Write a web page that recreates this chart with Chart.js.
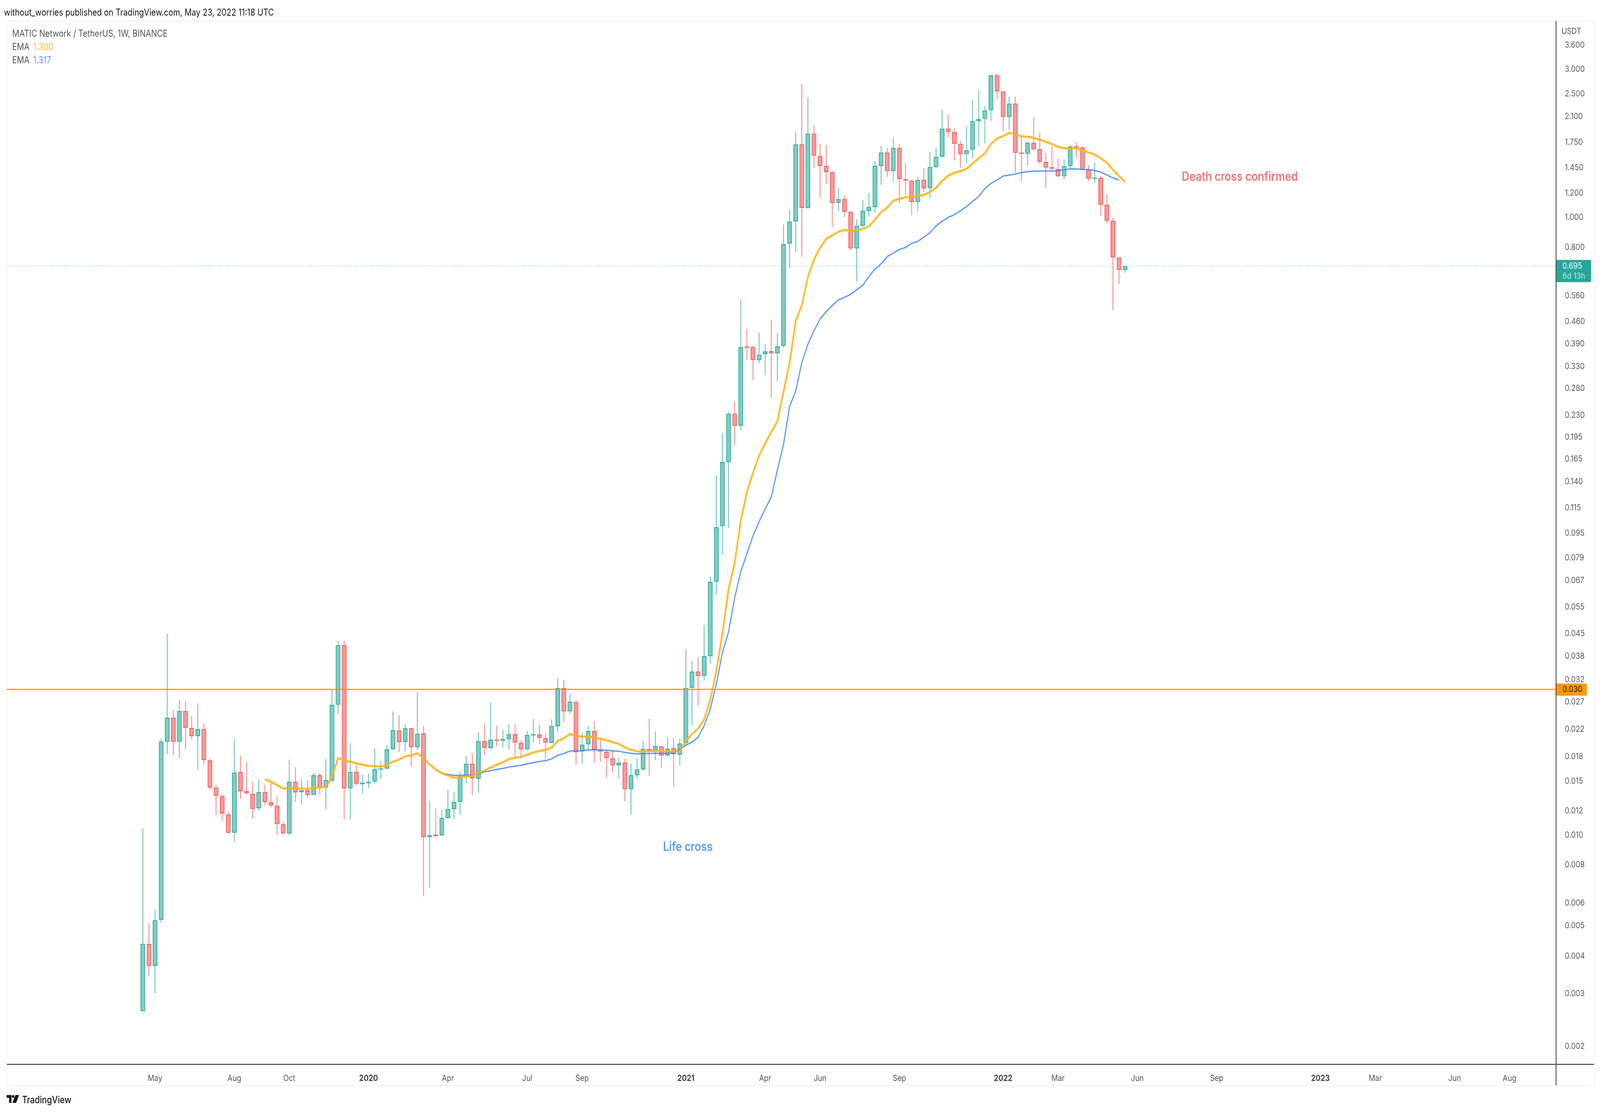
<!DOCTYPE html>
<html>
<head>
<meta charset="utf-8">
<title>MATIC Network / TetherUS</title>
<script src="https://cdn.jsdelivr.net/npm/chart.js@4"></script>
<style>
html,body{margin:0;padding:0;background:#fff;width:100%;height:100%;overflow:hidden}
#wrap{position:absolute;left:0;top:0;width:4862px;height:2850px;font-family:Inter,sans-serif;transform-origin:0 0}
canvas{position:absolute;left:0;top:0;display:block}
.t{position:absolute;white-space:nowrap;transform:translateY(-50%);font-size:24px;line-height:1;color:#555}
.f{position:absolute;background:#f0f3fa}
.a{position:absolute;background:#5d5d5d}
</style>
</head>
<body>
<div id="wrap">
<div class="f" style="left:19px;top:52px;width:4827px;height:3px"></div>
<div class="f" style="left:19px;top:2778px;width:4827px;height:3px"></div>
<div class="f" style="left:19px;top:52px;width:2px;height:2729px"></div>
<div class="f" style="left:4844px;top:52px;width:3px;height:2729px"></div>
<canvas id="c" width="4862" height="2850"></canvas>
<div class="a" style="left:21px;top:2723.5px;width:4823px;height:3px"></div>
<div class="a" style="left:4726.5px;top:54px;width:3px;height:2725px"></div>
<div class="t" style="left:12px;top:32px;color:#131722">without_worries published on TradingView.com, May 23, 2022 11:18 UTC</div>
<div class="t" style="left:37px;top:86px">MATIC Network / TetherUS, 1W, BINANCE</div>
<div class="t" style="left:37px;top:120px">EMA</div>
<div class="t" style="left:101px;top:120px;color:#ffb92e">1.300</div>
<div class="t" style="left:37px;top:154px">EMA</div>
<div class="t" style="left:101px;top:154px;color:#5b9cf6">1.317</div>
<div class="t" style="left:4745px;top:79px;font-size:22px">USDT</div>
<div class="t" style="left:3591px;top:452px;font-size:32px;font-weight:600;color:#f2757b">Death cross confirmed</div>
<div class="t" style="left:2015px;top:2168px;font-size:32px;font-weight:600;color:#5b9cf6">Life cross</div>
<svg style="position:absolute;left:20px;top:2804px" width="38" height="20" viewBox="0 0 38 20"><path fill="#131722" d="M0 0H15V20H7.5V7H0Z"/><circle fill="#131722" cx="20" cy="3.8" r="3.8"/><path fill="#131722" d="M27 0H38L29 20H17.5Z"/></svg>
<div class="t" style="left:67px;top:2816px;font-size:25px;font-weight:500;color:#131722">TradingView</div>
</div>
<script>
const opens=[.00275,.00453,.00385,.00543,.02034,.02427,.02034,.0255,.02251,.02122,
.02232,.0177,.01444,.01358,.01185,.01035,.01622,.01407,.01381,.01242,
.01398,.01297,.01263,.011,.01029,.01508,.01398,.01415,.01371,.01584,
.01448,.01525,.02677,.04164,.01439,.01624,.01485,.01495,.01513,.01655,
.01665,.01924,.02207,.02028,.02244,.01954,.02162,.01002,.0102,.01016,
.01154,.01233,.01302,.0158,.01724,.01547,.0204,.0194,.02063,.02051,
.02074,.0215,.02017,.01924,.0213,.02143,.02086,.02019,.02282,.03025,
.02551,.02727,.01892,.01998,.02198,.01911,.01884,.01795,.01708,.01739,
.01431,.01588,.01656,.01927,.01908,.01962,.01841,.01935,.0185,.02015,
.0304,.03421,.03318,.0384,.06675,.1008,.1624,.232,.2127,.3825,
.3808,.3461,.3616,.3695,.364,.3846,.8212,.9683,1.716,1.073,
1.856,1.571,1.46,1.395,1.114,1.143,1.038,.793,.9385,1.048,
1.079,1.463,1.614,1.408,1.671,1.324,1.31,1.121,1.318,1.241,
1.453,1.568,1.926,1.878,1.72,1.598,1.649,2.043,2.078,2.213,
2.862,2.54,2.109,2.321,1.614,1.6,1.733,1.654,1.503,1.448,
1.428,1.355,1.462,1.693,1.678,1.42,1.33,1.338,1.095,.972,
.74,.6762];
const closes=[.00453,.00385,.0054,.02034,.02427,.02034,.0255,.02256,.02122,.02232,
.01778,.01448,.01362,.01195,.01035,.01616,.01407,.0139,.01235,.01398,
.01299,.01268,.01103,.01032,.01508,.01396,.01415,.01371,.01584,.01448,
.01529,.02671,.04164,.01439,.01624,.0149,.015,.0151,.01655,.01668,
.01919,.02213,.02028,.02244,.01954,.02156,.01002,.01016,.0101,.01154,
.01233,.013,.01573,.01724,.01551,.0204,.01946,.02063,.02049,.02074,
.0215,.02022,.01924,.02137,.0215,.02094,.02022,.02285,.03025,.02551,
.02734,.01884,.01987,.02198,.01915,.0189,.01801,.01708,.01739,.01431,
.01584,.01654,.01924,.01906,.01968,.01838,.0193,.01854,.02004,.03028,
.03421,.03318,.0384,.06657,.0999,.1621,.232,.2125,.3805,.3795,
.3461,.3598,.3683,.364,.3827,.8185,.9667,1.716,1.073,1.856,
1.579,1.463,1.397,1.112,1.143,1.042,.793,.9367,1.048,1.077,
1.461,1.614,1.408,1.671,1.327,1.312,1.121,1.318,1.239,1.45,
1.564,1.926,1.884,1.725,1.598,1.641,2.04,2.071,2.206,2.862,
2.546,2.109,2.321,1.614,1.6,1.733,1.656,1.509,1.448,1.433,
1.355,1.459,1.688,1.68,1.422,1.332,1.341,1.097,.9744,.7418,
.6762,.695];
const highs=[.01067,.00527,.00584,.0208,.0453,.02566,.02771,.02748,.02454,.02705,
.02326,.01792,.01474,.01376,.0121,.02075,.01833,.01749,.01505,.01536,
.01477,.01505,.01362,.01125,.01778,.01683,.01548,.01529,.01615,.01606,
.01789,.03,.04292,.04292,.0201,.01717,.0159,.01606,.01929,.01763,
.01984,.02543,.02474,.02314,.02256,.02942,.02282,.01306,.01235,.0123,
.01421,.01395,.01624,.01825,.01866,.02183,.02314,.02715,.02288,.02217,
.02314,.02314,.02054,.02201,.02405,.02308,.02165,.024,.0326,.03217,
.02893,.02772,.02171,.02279,.02369,.02068,.01916,.01906,.01808,.01793,
.01731,.01798,.02037,.0241,.02196,.0197,.02103,.02089,.02078,.0404,
.03694,.03809,.04837,.06904,.1467,.2012,.2343,.2542,.5427,.4357,
.3839,.4235,.3896,.4672,.4214,.9459,1.055,1.884,2.686,2.426,
1.974,1.722,1.702,1.406,1.245,1.174,1.048,.9846,1.132,1.192,
1.513,1.693,1.67,1.79,1.716,1.495,1.316,1.351,1.437,1.625,
1.668,2.21,2.141,1.935,1.76,1.958,2.39,2.563,2.281,2.873,
2.91,2.54,2.443,2.443,1.818,1.757,2.094,1.871,1.608,1.696,
1.541,1.535,1.688,1.744,1.686,1.469,1.499,1.354,1.182,.9917,
.74,.695];
const lows=[.00275,.00356,.00315,.0053,.01855,.01844,.01803,.01921,.02071,.01655,
.01721,.0143,.01181,.01127,.01029,.0097,.01331,.01373,.0115,.01222,
.01268,.0125,.01018,.01018,.01018,.01301,.01276,.01345,.01371,.01376,
.01232,.01505,.02508,.01143,.01143,.01471,.01384,.01441,.01494,.01547,
.01665,.01911,.01882,.019,.01696,.01919,.00646,.00689,.00998,.01016,
.01154,.01143,.01183,.01496,.01373,.01392,.01841,.01927,.01968,.01951,
.01915,.01795,.01823,.01911,.02019,.01999,.01798,.02014,.02196,.02353,
.02508,.01717,.01731,.019,.01746,.01756,.0156,.01617,.01549,.01309,
.01186,.01549,.01642,.01577,.01777,.01676,.01813,.01457,.01706,.0197,
.023,.02659,.03206,.03642,.06037,.0818,.0994,.1835,.2053,.3458,
.2986,.3372,.3098,.2618,.2956,.3788,.6873,.7722,.7456,1.0626,
1.44,1.159,1.279,.9288,1.0435,1.003,.7838,.621,.9316,1.006,
1.037,1.272,1.351,1.302,1.112,1.184,1.0145,1.0435,1.202,1.151,
1.437,1.558,1.804,1.525,1.444,1.49,1.548,1.7,1.731,2.045,
2.402,1.893,1.913,1.393,1.302,1.471,1.639,1.488,1.243,1.419,
1.349,1.325,1.438,1.556,1.415,1.31,1.291,1.01,.957,.5021,
.6088,.662];
const emaFastStart=20;
const emaFast=[.01539,.01511,.01474,.01436,.01439,.01439,.01436,.0143,.01448,.01448,
.01454,.01567,.01803,.01767,.01753,.01733,.01714,.01699,.01696,.01691,
.0171,.01756,.0178,.01825,.01835,.01868,.01795,.01722,.01654,.0161,
.01582,.01556,.01558,.01571,.01575,.01617,.01642,.0168,.01713,.01746,
.01788,.01805,.01816,.01848,.01878,.01898,.01912,.01946,.02044,.02088,
.02153,.02123,.02112,.02115,.02094,.0208,.02056,.02025,.02002,.01949,
.01916,.01892,.01892,.01897,.019,.01895,.01892,.01892,.01892,.02044,
.02151,.0224,.02401,.02775,.03435,.0455,.06301,.07675,.1048,.1298,
.1497,.1698,.1866,.2024,.2196,.2734,.3383,.4634,.5189,.6409,
.7298,.7956,.8505,.8733,.8971,.9105,.8999,.903,.918,.9336,
.9813,1.038,1.073,1.13,1.145,1.161,1.159,1.174,1.179,1.206,
1.243,1.31,1.36,1.391,1.406,1.432,1.49,1.548,1.606,1.72,
1.793,1.825,1.871,1.847,1.822,1.816,1.8,1.776,1.749,1.72,
1.686,1.667,1.667,1.669,1.641,1.616,1.593,1.547,1.499,1.422,
1.355,1.3];
const emaSlowStart=49;
const emaSlow=[.0161,.01595,.01584,.01584,.01586,.01588,.01606,.01625,.0164,.01654,
.01668,.01685,.01696,.01706,.01725,.01741,.01756,.01765,.01791,.01838,
.01863,.01898,.01898,.01903,.01914,.01914,.01914,.01908,.019,.01895,
.01878,.01866,.01858,.0186,.01863,.01866,.01866,.01866,.01871,.01924,
.0198,.02028,.021,.02291,.02589,.03122,.03943,.04597,.05928,.0719,
.0821,.0937,.1042,.1144,.1252,.1528,.1847,.2451,.2745,.3394,
.389,.4299,.4696,.4952,.5189,.5409,.5509,.5638,.5829,.6027,
.6441,.6794,.7071,.7456,.7658,.7864,.7983,.8225,.835,.8618,
.891,.9367,.9699,.9978,1.018,1.048,1.082,1.124,1.166,1.236,
1.284,1.318,1.357,1.367,1.376,1.393,1.402,1.406,1.408,1.408,
1.408,1.411,1.42,1.431,1.429,1.425,1.424,1.413,1.396,1.367,
1.338,1.317];
const levelPrice=0.03;
const lastPrice=0.695;
const priceTickValues=[3.589,2.997,2.5,2.11,1.745,1.445,1.197,1,.8,.5584,.4598,.3907,.3303,.2808,.2295,.1954,.1658,.1404,.1155,.0955,.0796,.0674,.05534,.04536,.03836,.03228,.02729,.02228,.01822,.01517,.01218,.01016,.00816,.00614,.00518,.00414,.00313,.00212];
const priceTickLabels=["3.600","3.000","2.500","2.100","1.750","1.450","1.200","1.000","0.800","0.560","0.460","0.390","0.330","0.280","0.230","0.195","0.165","0.140","0.115","0.095","0.079","0.067","0.055","0.045","0.038","0.032","0.027","0.022","0.018","0.015","0.012","0.010","0.008","0.006","0.005","0.004","0.003","0.002"];
const timeTickWeeks=[2,15,24,37,50,63,72,89,102,111,124,141,150,163,176,193,202,215,224];
const timeTickLabels=["May","Aug","Oct","2020","Apr","Jul","Sep","2021","Apr","Jun","Sep","2022","Mar","Jun","Sep","2023","Mar","Jun","Aug"];

// The browser window can be narrower than the 4862 px reference: fit the whole picture into it.
document.getElementById('wrap').style.transform='scale('+(innerWidth/4862)+','+(innerHeight/2850)+')';

const X_MIN=-22.276, X_MAX=231.6, Y_MIN=0.001855, Y_MAX=4.287;
const up=i=>closes[i]>=opens[i];
const UP='#26a69a', DN='#ef5350';
const tags={
 id:'tags',
 afterDraw(ch){
  const c=ch.ctx, y=ch.scales.y;
  const right=ch.chartArea.right;
  c.save();
  c.textBaseline='middle'; c.textAlign='left';
  let py=y.getPixelForValue(lastPrice);
  c.fillStyle=UP; c.beginPath(); c.roundRect(right-1,py-16,108,57,[0,4,4,0]); c.fill();
  c.font='22px Inter,sans-serif'; c.fillStyle='#fff'; c.fillText('0.695',right+20,py);
  c.fillStyle='rgba(255,255,255,.72)'; c.fillText('6d 13h',right+20,py+26);
  py=y.getPixelForValue(levelPrice);
  c.fillStyle='#ff9800'; c.beginPath(); c.roundRect(right-1,py-15,95,31,[0,4,4,0]); c.fill();
  c.fillStyle='#131722'; c.fillText('0.030',right+20,py);
  c.restore();
 }
};
new Chart(document.getElementById('c'),{
 data:{datasets:[
  {type:'line',order:1,data:[{x:X_MIN,y:levelPrice},{x:X_MAX,y:levelPrice}],borderColor:'#ff9800',borderWidth:3,pointRadius:0},
  {type:'line',order:2,data:emaFast.map((v,i)=>({x:i+emaFastStart,y:v})),borderColor:'rgba(255,180,20,.88)',borderWidth:5.5,pointRadius:0,borderJoinStyle:'round',tension:0},
  {type:'line',order:3,data:emaSlow.map((v,i)=>({x:i+emaSlowStart,y:v})),borderColor:'rgba(66,135,250,.85)',borderWidth:3.5,pointRadius:0,borderJoinStyle:'round',tension:0},
  {type:'line',order:4,data:[{x:X_MIN,y:lastPrice},{x:X_MAX,y:lastPrice}],borderColor:'#7ccdc2',borderWidth:2,borderDash:[2,4],pointRadius:0},
  {type:'bar',order:5,grouped:false,barThickness:13.5,barPercentage:1,categoryPercentage:1,borderWidth:2,borderSkipped:false,
   data:opens.map((o,i)=>({x:i,y:[o,closes[i]]})),
   backgroundColor:c=>up(c.dataIndex)?'#7fccc2':'#f89a9a',
   borderColor:c=>up(c.dataIndex)?UP:DN},
  {type:'bar',order:6,grouped:false,barThickness:2.5,barPercentage:1,categoryPercentage:1,borderWidth:0,
   data:highs.map((h,i)=>({x:i,y:[lows[i],h]})),
   backgroundColor:c=>up(c.dataIndex)?'#7ccdc2':'#f79a9a'}
 ]},
 plugins:[tags],
 options:{
  responsive:false,animation:false,devicePixelRatio:1,
  layout:{padding:{left:21,top:54,right:0,bottom:0}},
  plugins:{legend:{display:false},tooltip:{enabled:false}},
  scales:{
   x:{type:'linear',offset:false,bounds:'data',min:X_MIN,max:X_MAX,grid:{display:false},border:{display:false},
    afterBuildTicks:s=>{s.ticks=timeTickWeeks.map(v=>({value:v}));},
    afterFit:s=>{s.height=125;},
    ticks:{autoSkip:false,maxRotation:0,padding:15,
     callback:(v,i)=>timeTickLabels[i],
     color:c=>/^\d/.test(timeTickLabels[c.index])?'#444':'#555',
     font:c=>({family:'Inter,sans-serif',size:22,weight:/^\d/.test(timeTickLabels[c.index])?'700':'400'})}},
   y:{type:'logarithmic',position:'right',bounds:'data',min:Y_MIN,max:Y_MAX,grid:{display:false},border:{display:false},
    afterBuildTicks:s=>{s.ticks=priceTickValues.map(v=>({value:v}));},
    afterFit:s=>{s.width=134;},
    ticks:{autoSkip:false,padding:19,color:'#5a5a5a',font:{family:'Inter,sans-serif',size:22},
     callback:(v,i)=>priceTickLabels[i]}}
  }
 }
});
</script>
</body>
</html>
